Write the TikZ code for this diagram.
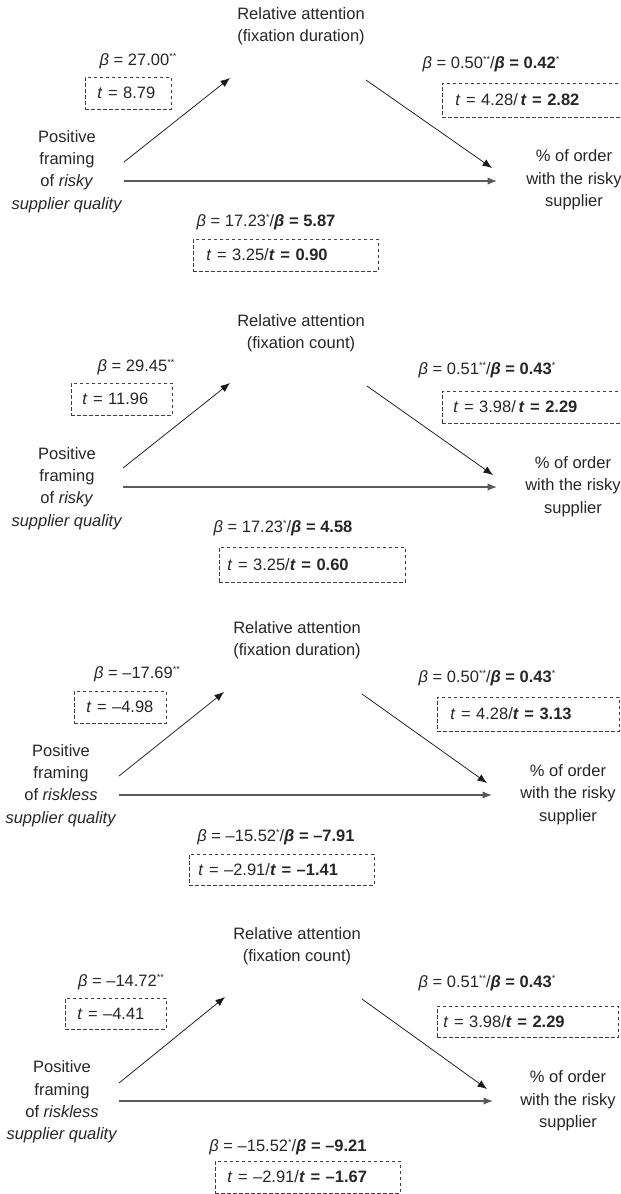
\documentclass[tikz,border=0pt]{standalone}
\usepackage{fontspec}
\setmainfont{Liberation Sans}
\usetikzlibrary{arrows.meta}
\newcommand{\sig}[1]{\raisebox{6pt}{\fontsize{9}{9}\selectfont #1}}

\begin{document}
\begin{tikzpicture}[x=1pt, y=-1pt, >={Latex[length=9.5pt,width=7.5pt]},
    font=\fontsize{16.5}{22.3}\selectfont, text=black!85,
    varnode/.style={align=center, inner sep=0pt},
    coef/.style={inner sep=0pt},
    tbox/.style={draw=black!75, line width=0.7pt, dash pattern=on 3.5pt off 2.5pt, anchor=west, align=left, inner ysep=0pt, minimum height=32pt},
    medarrow/.style={->, line width=0.75pt, black!90},
    directarrow/.style={->, line width=1.3pt, black!65}]
    \useasboundingbox (0,0) rectangle (621,1194);

    % Panel 1 - risky quality, fixation duration
    \node[varnode] (attn1) at (301,26.5) {Relative attention\\(fixation duration)};
    \node[varnode] (frame1) at (67,171.5) {Positive\\framing\\of \textit{risky}\\\textit{supplier quality}};
    \node[varnode] (out1) at (574,180) {\% of order\\with the risky\\supplier};
    \node[coef] (b1a) at (138,61) {\textit{β} = 27.00\sig{**}};
    \node[tbox, text width=62pt, inner xsep=12pt] (t1a) at (85,93) {\textit{t} = 8.79};
    \node[coef] (b1b) at (491,64) {\textit{β} = 0.50\sig{**}/\textbf{\textit{β} = 0.42}\sig{*}};
    \node[tbox, text width=174pt, inner xsep=13pt, minimum height=34pt] (t1b) at (442,100) {\textit{t} = 4.28/\,\textbf{\textit{t} = 2.82}};
    \node[coef] (b1c) at (266,222) {\textit{β} = 17.23\sig{*}/\textbf{\textit{β} = 5.87}};
    \node[tbox, text width=159pt, inner xsep=13pt] (t1c) at (193,255) {\textit{t} = 3.25/\textbf{\textit{t} = 0.90}};
    \draw[medarrow] ([shift={(57,-9.5)}]frame1.center) -- ([shift={(-71,51.5)}]attn1.center);
    \draw[medarrow] ([shift={(65,53.5)}]attn1.center) -- ([shift={(-82,-12)}]out1.center);
    \draw[directarrow] ([shift={(57,9.5)}]frame1.center) -- ([shift={(-77,1)}]out1.center);

    % Panel 2 - risky quality, fixation count
    \node[varnode] (attn2) at (301,333.5) {Relative attention\\(fixation count)};
    \node[varnode] (frame2) at (67,488.5) {Positive\\framing\\of \textit{risky}\\\textit{supplier quality}};
    \node[varnode] (out2) at (573,486.5) {\% of order\\with the risky\\supplier};
    \node[coef] (b2a) at (136,367) {\textit{β} = 29.45\sig{**}};
    \node[tbox, text width=79pt, inner xsep=11pt] (t2a) at (71,399) {\textit{t} = 11.96};
    \node[coef] (b2b) at (487,370) {\textit{β} = 0.51\sig{**}/\textbf{\textit{β} = 0.43}\sig{*}};
    \node[tbox, text width=176pt, inner xsep=11pt] (t2b) at (442,407) {\textit{t} = 3.98/\,\textbf{\textit{t} = 2.29}};
    \node[coef] (b2c) at (283,528) {\textit{β} = 17.23\sig{*}/\textbf{\textit{β} = 4.58}};
    \node[tbox, text width=170pt, inner xsep=8pt, minimum height=35pt] (t2c) at (219,564.5) {\textit{t} = 3.25/\textbf{\textit{t} = 0.60}};
    \draw[medarrow] ([shift={(56,-20.5)}]frame2.center) -- ([shift={(-71,49.5)}]attn2.center);
    \draw[medarrow] ([shift={(66,52.5)}]attn2.center) -- ([shift={(-80,-11.5)}]out2.center);
    \draw[directarrow] ([shift={(56,-1.5)}]frame2.center) -- ([shift={(-76,0.5)}]out2.center);

    % Panel 3 - riskless quality, fixation duration
    \node[varnode] (attn3) at (297,640.5) {Relative attention\\(fixation duration)};
    \node[varnode] (frame3) at (61,785.5) {Positive\\framing\\of \textit{riskless}\\\textit{supplier quality}};
    \node[varnode] (out3) at (568,794.5) {\% of order\\with the risky\\supplier};
    \node[coef] (b3a) at (137,674) {\textit{β} = –17.69\sig{**}};
    \node[tbox, text width=68pt, inner xsep=12pt] (t3a) at (74,707) {\textit{t} = –4.98};
    \node[coef] (b3b) at (487,678) {\textit{β} = 0.50\sig{**}/\textbf{\textit{β} = 0.43}\sig{*}};
    \node[tbox, text width=156pt, inner xsep=13pt, minimum height=34pt] (t3b) at (437,714) {\textit{t} = 4.28/\textbf{\textit{t} = 3.13}};
    \node[coef] (b3c) at (276,837) {\textit{β} = –15.52\sig{*}/\textbf{\textit{β} = –7.91}};
    \node[tbox, text width=167pt, inner xsep=9pt, minimum height=31pt] (t3c) at (189,869.5) {\textit{t} = –2.91/\textbf{\textit{t} = –1.41}};
    \draw[medarrow] ([shift={(58,-9.5)}]frame3.center) -- ([shift={(-73,51.5)}]attn3.center);
    \draw[medarrow] ([shift={(65,53.5)}]attn3.center) -- ([shift={(-81,-11.5)}]out3.center);
    \draw[directarrow] ([shift={(58,9.5)}]frame3.center) -- ([shift={(-76,0.5)}]out3.center);

    % Panel 4 - riskless quality, fixation count
    \node[varnode] (attn4) at (297,946.5) {Relative attention\\(fixation count)};
    \node[varnode] (frame4) at (62,1102) {Positive\\framing\\of \textit{riskless}\\\textit{supplier quality}};
    \node[varnode] (out4) at (568,1101) {\% of order\\with the risky\\supplier};
    \node[coef] (b4a) at (121,982) {\textit{β} = –14.72\sig{**}};
    \node[tbox, text width=77pt, inner xsep=12pt, minimum height=31pt] (t4a) at (65,1013.5) {\textit{t} = –4.41};
    \node[coef] (b4b) at (487,983) {\textit{β} = 0.51\sig{**}/\textbf{\textit{β} = 0.43}\sig{*}};
    \node[tbox, text width=169pt, inner xsep=6pt, minimum height=31pt] (t4b) at (437,1021.5) {\textit{t} = 3.98/\textbf{\textit{t} = 2.29}};
    \node[coef] (b4c) at (288,1147) {\textit{β} = –15.52\sig{*}/\textbf{\textit{β} = –9.21}};
    \node[tbox, text width=161pt, inner xsep=12pt] (t4c) at (215,1177) {\textit{t} = –2.91/\textbf{\textit{t} = –1.67}};
    \draw[medarrow] ([shift={(57,-19)}]frame4.center) -- ([shift={(-72,50.5)}]attn4.center);
    \draw[medarrow] ([shift={(65,52.5)}]attn4.center) -- ([shift={(-81,-12)}]out4.center);
    \draw[directarrow] ([shift={(57,-1)}]frame4.center) -- ([shift={(-75,0)}]out4.center);
\end{tikzpicture}
\end{document}
